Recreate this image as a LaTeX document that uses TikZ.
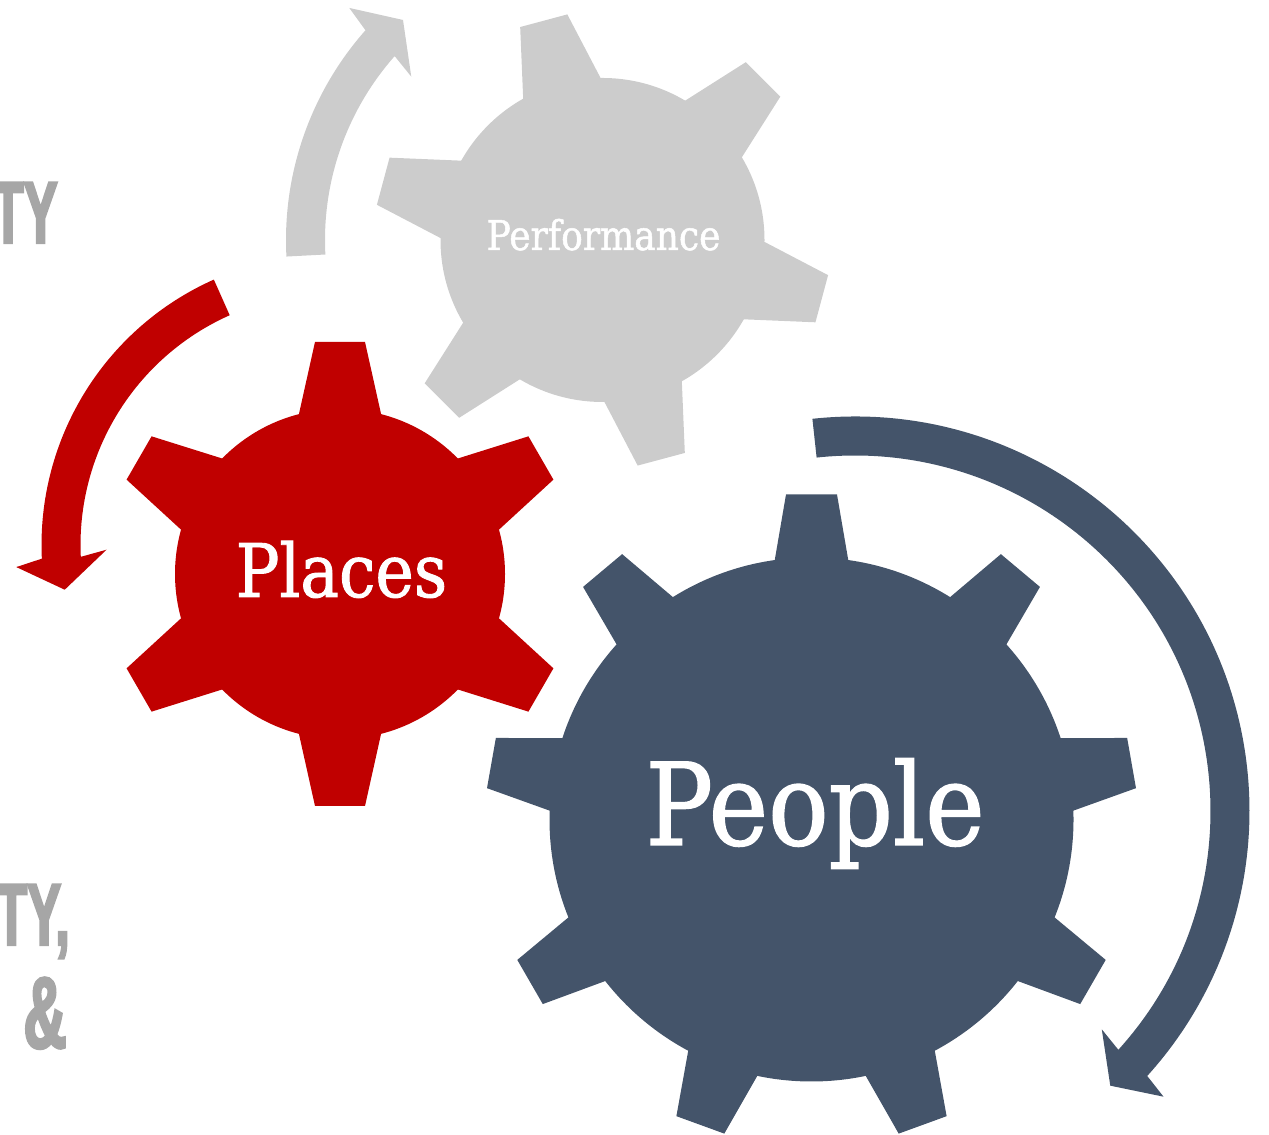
\documentclass[tikz,border=0pt]{standalone}
\usepackage{fontspec}
\newfontfamily\gearfont[FakeStretch=0.88, FakeBold=1.2]{DejaVu Serif}
\newfontfamily\sidefont[FakeStretch=0.58, FakeBold=2.5]{Liberation Sans}
\definecolor{perfgray}{HTML}{CCCCCC}
\definecolor{placered}{HTML}{C00000}
\definecolor{peopleblue}{HTML}{44546A}
\definecolor{sidegray}{HTML}{A6A6A6}
\tikzset{
	gearlabel/.style={text=white, inner sep=0pt, anchor=base},
	sidetext/.style={text=sidegray, inner sep=0pt, font=\sidefont\bfseries\fontsize{50}{50}\selectfont},
}

\begin{document}
\begin{tikzpicture}[x=0.2mm, y=0.2mm]
		\useasboundingbox (0,0) rectangle (1269,1135);
		
		% Performance gear
		\fill[perfgray] (602.5,895) circle (162);
		\foreach \a in {45,105,...,345}
			\fill[perfgray, shift={(602.5,895)}, rotate=\a-90] (-40.5,155) -- (-24.4,227) -- (24.4,227) -- (40.5,155) -- cycle;
		\node[gearlabel, font=\gearfont\fontsize{23.3}{24}\selectfont] (performance) at (603.5,885) {Performance};
		
		% Places gear
		\fill[placered] (340,561) circle (165);
		\foreach \a in {30,90,...,330}
			\fill[placered, shift={(340,561)}, rotate=\a-90] (-41.5,158) -- (-25,232) -- (25,232) -- (41.5,158) -- cycle;
		\node[gearlabel, font=\gearfont\fontsize{42}{44}\selectfont] (places) at (341.5,538) {Places};
		
		% People gear
		\fill[peopleblue] (811.5,315.5) circle (262);
		\foreach \a in {90,130,...,410}
			\fill[peopleblue, shift={(811.5,315.5)}, rotate=\a-90] (-37,258) -- (-25.5,325) -- (25.5,325) -- (37,258) -- cycle;
		\node[gearlabel, font=\gearfont\fontsize{65}{68}\selectfont] (people) at (815,290) {People};
		
		% curved arrows
		\fill[perfgray, shift={(602.5,895)}] (183:316.5) arc[start angle=183, end angle=138.5, radius=316.5] -- (137.5:343.5) -- (132.2:297) -- (139.5:251.5) -- (138.5:277.5) arc[start angle=138.5, end angle=183, radius=277.5] -- cycle;
		\fill[placered, shift={(332,590)}] (114:290.5) arc[start angle=114, end angle=182.7, radius=290.5] -- (184:316.5) -- (189.5:271) -- (181.2:225.5) -- (182.7:251.5) arc[start angle=182.7, end angle=114, radius=251.5] -- cycle;
		\fill[peopleblue, shift={(855,324)}] (96.2:394.5) arc[start angle=96.2, end angle=-42.2, radius=394.5] -- (-42.8:420.5) -- (-47.1:375) -- (-41.5:329.5) -- (-42.2:355.5) arc[start angle=-42.2, end angle=96.2, radius=355.5] -- cycle;
		
		% side words
		\node[sidetext, anchor=base east] (ty) at (58,892) {TY};
		\node[sidetext, anchor=base east] (tycomma) at (70,190) {TY,};
		\node[sidetext, anchor=base, font=\sidefont\bfseries\fontsize{58}{58}\selectfont] (amp) at (45,87) {\&};
		
\end{tikzpicture}
\end{document}
